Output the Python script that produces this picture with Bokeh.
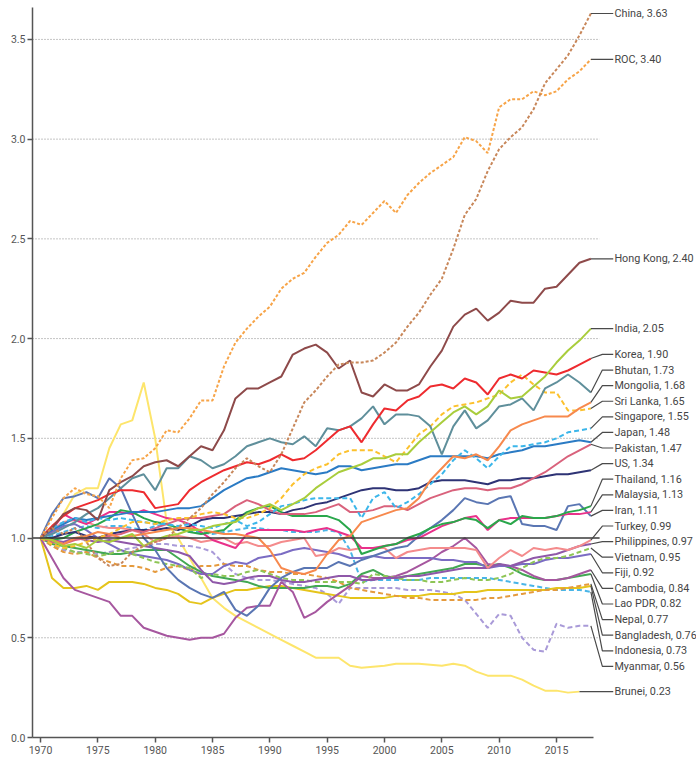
from bokeh.plotting import figure
from bokeh.models import FixedTicker, PrintfTickFormatter, Range1d
from bokeh.core.properties import value
from bokeh.embed import file_html
from bokeh.resources import INLINE

# ---------------- data ----------------
years = list(range(1970, 2019))
x_ticks = [1970, 1975, 1980, 1985, 1990, 1995, 2000, 2005, 2010, 2015]
y_ticks = [0.0, 0.5, 1.0, 1.5, 2.0, 2.5, 3.0, 3.5]

names = ["China", "ROC", "Hong Kong", "India", "Korea", "Bhutan", "Mongolia",
         "Sri Lanka", "Singapore", "Japan", "Pakistan", "US", "Thailand",
         "Malaysia", "Iran", "Turkey", "Philippines", "Vietnam", "Fiji",
         "Cambodia", "Lao PDR", "Nepal", "Bangladesh", "Indonesia", "Myanmar",
         "Brunei"]

china = [1.00, 1.05, 1.02, 1.05, 0.98, 0.90, 0.86, 0.87, 0.93, 0.96,
         0.98, 1.00, 1.05, 1.10, 1.15, 1.22, 1.28, 1.35, 1.40, 1.36,
         1.33, 1.42, 1.55, 1.68, 1.74, 1.81, 1.87, 1.88, 1.88, 1.89,
         1.93, 1.98, 2.06, 2.13, 2.22, 2.30, 2.45, 2.62, 2.70, 2.84,
         2.95, 3.01, 3.06, 3.15, 3.28, 3.35, 3.42, 3.52, 3.63]
roc = [1.00, 1.10, 1.20, 1.25, 1.22, 1.21, 1.15, 1.30, 1.39, 1.40,
       1.45, 1.54, 1.53, 1.60, 1.69, 1.69, 1.86, 1.98, 2.05, 2.11,
       2.16, 2.25, 2.30, 2.33, 2.41, 2.48, 2.52, 2.59, 2.57, 2.63,
       2.69, 2.63, 2.72, 2.78, 2.83, 2.87, 2.91, 3.01, 2.99, 2.93,
       3.16, 3.20, 3.20, 3.24, 3.22, 3.24, 3.30, 3.34, 3.40]
hong_kong = [1.00, 1.05, 1.12, 1.15, 1.14, 1.09, 1.24, 1.28, 1.31, 1.36,
             1.38, 1.39, 1.36, 1.41, 1.46, 1.44, 1.54, 1.70, 1.75, 1.75,
             1.78, 1.81, 1.92, 1.95, 1.97, 1.93, 1.85, 1.89, 1.73, 1.71,
             1.77, 1.74, 1.74, 1.77, 1.86, 1.94, 2.06, 2.12, 2.15, 2.09,
             2.13, 2.19, 2.18, 2.18, 2.25, 2.26, 2.32, 2.38, 2.40]
india = [1.00, 0.99, 0.96, 0.97, 0.95, 0.99, 0.98, 1.00, 1.02, 0.96,
         0.99, 1.01, 1.02, 1.04, 1.04, 1.06, 1.07, 1.08, 1.12, 1.15,
         1.17, 1.14, 1.17, 1.20, 1.25, 1.29, 1.33, 1.35, 1.37, 1.40,
         1.40, 1.42, 1.42, 1.48, 1.53, 1.58, 1.63, 1.66, 1.62, 1.66,
         1.74, 1.70, 1.71, 1.76, 1.81, 1.88, 1.94, 1.99, 2.05]
korea = [1.00, 1.06, 1.11, 1.15, 1.17, 1.19, 1.22, 1.24, 1.24, 1.23,
         1.15, 1.16, 1.17, 1.24, 1.28, 1.31, 1.34, 1.36, 1.38, 1.37,
         1.39, 1.42, 1.39, 1.40, 1.44, 1.49, 1.54, 1.56, 1.48, 1.57,
         1.65, 1.64, 1.69, 1.71, 1.76, 1.77, 1.75, 1.80, 1.78, 1.72,
         1.80, 1.82, 1.80, 1.84, 1.83, 1.82, 1.84, 1.87, 1.90]
bhutan = [1.00, 1.02, 1.05, 1.08, 1.12, 1.15, 1.20, 1.25, 1.30, 1.32,
          1.24, 1.35, 1.35, 1.41, 1.39, 1.35, 1.37, 1.41, 1.46, 1.48,
          1.50, 1.48, 1.47, 1.51, 1.46, 1.55, 1.54, 1.56, 1.60, 1.66,
          1.57, 1.62, 1.62, 1.61, 1.56, 1.42, 1.56, 1.64, 1.55, 1.59,
          1.66, 1.67, 1.70, 1.64, 1.75, 1.78, 1.82, 1.78, 1.73]
mongolia = [1.00, 0.99, 0.97, 1.00, 1.01, 1.03, 1.02, 1.00, 1.01, 1.02,
            1.03, 1.04, 1.05, 1.05, 1.04, 1.03, 1.02, 1.02, 1.01, 1.00,
            0.94, 0.85, 0.83, 0.82, 0.84, 0.92, 0.99, 1.01, 1.08, 1.10,
            1.12, 1.14, 1.15, 1.20, 1.29, 1.35, 1.41, 1.40, 1.42, 1.39,
            1.46, 1.54, 1.57, 1.59, 1.61, 1.61, 1.61, 1.65, 1.68]
sri_lanka = [1.00, 0.97, 0.95, 0.96, 0.98, 1.00, 1.02, 1.05, 1.08, 1.08,
             1.07, 1.09, 1.10, 1.10, 1.12, 1.13, 1.12, 1.10, 1.10, 1.12,
             1.15, 1.20, 1.27, 1.32, 1.35, 1.37, 1.42, 1.44, 1.44, 1.44,
             1.41, 1.38, 1.45, 1.52, 1.56, 1.62, 1.66, 1.67, 1.68, 1.70,
             1.72, 1.78, 1.82, 1.77, 1.73, 1.73, 1.64, 1.64, 1.65]
singapore = [1.00, 1.05, 1.08, 1.10, 1.08, 1.10, 1.09, 1.10, 1.09, 1.08,
             1.07, 1.07, 1.06, 1.07, 1.06, 1.05, 1.07, 1.09, 1.06, 1.08,
             1.12, 1.16, 1.17, 1.19, 1.20, 1.20, 1.20, 1.20, 1.10, 1.20,
             1.23, 1.15, 1.18, 1.22, 1.27, 1.32, 1.39, 1.44, 1.40, 1.35,
             1.41, 1.46, 1.46, 1.47, 1.48, 1.50, 1.53, 1.54, 1.55]
japan = [1.00, 1.04, 1.07, 1.10, 1.09, 1.10, 1.11, 1.12, 1.13, 1.13,
         1.13, 1.14, 1.15, 1.15, 1.16, 1.20, 1.24, 1.27, 1.30, 1.31,
         1.33, 1.35, 1.34, 1.33, 1.32, 1.33, 1.36, 1.36, 1.34, 1.35,
         1.36, 1.37, 1.37, 1.39, 1.41, 1.41, 1.41, 1.41, 1.41, 1.40,
         1.42, 1.43, 1.44, 1.46, 1.46, 1.47, 1.48, 1.49, 1.48]
pakistan = [1.00, 0.98, 0.97, 0.99, 1.00, 1.00, 1.01, 1.02, 1.04, 1.03,
            1.05, 1.07, 1.09, 1.10, 1.10, 1.11, 1.12, 1.16, 1.19, 1.17,
            1.14, 1.12, 1.12, 1.12, 1.13, 1.15, 1.17, 1.13, 1.13, 1.14,
            1.16, 1.16, 1.14, 1.17, 1.20, 1.22, 1.24, 1.25, 1.25, 1.24,
            1.25, 1.25, 1.27, 1.30, 1.33, 1.37, 1.41, 1.44, 1.47]
us = [1.00, 1.00, 1.02, 1.03, 1.01, 1.00, 1.02, 1.03, 1.04, 1.04,
      1.04, 1.05, 1.04, 1.06, 1.09, 1.10, 1.10, 1.11, 1.12, 1.13,
      1.13, 1.12, 1.14, 1.15, 1.17, 1.18, 1.20, 1.22, 1.24, 1.25,
      1.25, 1.24, 1.24, 1.25, 1.28, 1.29, 1.29, 1.29, 1.28, 1.27,
      1.29, 1.29, 1.30, 1.30, 1.31, 1.32, 1.32, 1.33, 1.34]
thailand = [1.00, 0.99, 1.00, 1.03, 1.05, 1.07, 1.10, 1.14, 1.13, 1.10,
            1.08, 1.07, 1.05, 1.03, 1.02, 1.03, 1.04, 1.09, 1.13, 1.15,
            1.16, 1.13, 1.11, 1.11, 1.11, 1.11, 1.09, 1.04, 0.92, 0.94,
            0.96, 0.97, 1.00, 1.02, 1.05, 1.07, 1.08, 1.10, 1.09, 1.05,
            1.09, 1.07, 1.11, 1.10, 1.10, 1.11, 1.13, 1.14, 1.16]
malaysia = [1.00, 1.04, 1.12, 1.09, 1.07, 1.10, 1.13, 1.13, 1.12, 1.14,
            1.12, 1.10, 1.09, 1.07, 1.03, 0.99, 0.97, 0.95, 1.02, 1.04,
            1.04, 1.04, 1.04, 1.03, 1.04, 1.05, 1.03, 1.01, 0.95, 0.95,
            0.96, 0.97, 0.99, 1.00, 1.03, 1.06, 1.08, 1.10, 1.11, 1.04,
            1.09, 1.10, 1.10, 1.10, 1.10, 1.11, 1.12, 1.12, 1.13]
iran = [1.00, 1.12, 1.20, 1.21, 1.23, 1.20, 1.30, 1.25, 1.12, 1.00,
        0.94, 0.85, 0.79, 0.75, 0.72, 0.70, 0.73, 0.64, 0.61, 0.66,
        0.75, 0.80, 0.83, 0.85, 0.85, 0.85, 0.88, 0.86, 0.89, 0.91,
        0.93, 0.95, 0.96, 1.01, 1.05, 1.09, 1.14, 1.20, 1.18, 1.17,
        1.20, 1.21, 1.07, 1.06, 1.06, 1.04, 1.16, 1.17, 1.11]
turkey = [1.00, 1.04, 1.08, 1.09, 1.08, 1.06, 1.05, 1.05, 1.04, 1.02,
          0.98, 1.00, 1.01, 1.00, 0.98, 0.99, 1.00, 0.97, 0.98, 0.96,
          0.96, 0.98, 0.99, 1.00, 0.91, 0.92, 0.95, 0.94, 0.95, 0.95,
          0.95, 0.90, 0.93, 0.94, 0.95, 0.95, 0.95, 0.95, 0.94, 0.85,
          0.90, 0.94, 0.91, 0.95, 0.94, 0.95, 0.94, 0.96, 0.99]
philippines = [1.00, 0.99, 0.98, 1.00, 0.99, 0.98, 0.99, 0.98, 0.97, 0.96,
               0.95, 0.94, 0.93, 0.91, 0.84, 0.78, 0.77, 0.78, 0.80, 0.81,
               0.81, 0.79, 0.78, 0.78, 0.79, 0.80, 0.81, 0.81, 0.79, 0.79,
               0.80, 0.80, 0.81, 0.81, 0.82, 0.83, 0.84, 0.85, 0.85, 0.85,
               0.87, 0.86, 0.88, 0.90, 0.91, 0.92, 0.94, 0.96, 0.97]
vietnam = [1.00, 0.97, 0.95, 0.93, 0.92, 0.91, 0.92, 0.94, 0.92, 0.90,
           0.88, 0.87, 0.86, 0.85, 0.80, 0.82, 0.81, 0.81, 0.83, 0.84,
           0.82, 0.80, 0.79, 0.79, 0.78, 0.78, 0.78, 0.78, 0.77, 0.82,
           0.81, 0.80, 0.79, 0.79, 0.78, 0.78, 0.79, 0.80, 0.79, 0.79,
           0.80, 0.82, 0.85, 0.88, 0.90, 0.90, 0.91, 0.93, 0.95]
fiji = [1.00, 1.03, 1.06, 1.07, 1.04, 1.00, 0.97, 0.94, 0.92, 0.91,
        0.90, 0.89, 0.87, 0.84, 0.82, 0.82, 0.86, 0.88, 0.87, 0.90,
        0.91, 0.92, 0.94, 0.95, 0.94, 0.93, 0.92, 0.90, 0.90, 0.91,
        0.90, 0.90, 0.90, 0.90, 0.90, 0.89, 0.89, 0.88, 0.88, 0.85,
        0.86, 0.86, 0.87, 0.87, 0.89, 0.90, 0.90, 0.91, 0.92]
cambodia = [1.00, 0.90, 0.80, 0.74, 0.72, 0.70, 0.68, 0.61, 0.61, 0.55,
            0.53, 0.51, 0.50, 0.49, 0.50, 0.50, 0.52, 0.60, 0.65, 0.66,
            0.66, 0.78, 0.73, 0.60, 0.63, 0.68, 0.72, 0.76, 0.81, 0.80,
            0.80, 0.81, 0.83, 0.86, 0.89, 0.93, 0.96, 1.00, 0.95, 0.87,
            0.86, 0.86, 0.84, 0.81, 0.79, 0.79, 0.80, 0.82, 0.84]
lao_pdr = [1.00, 0.97, 0.96, 0.95, 0.94, 0.93, 0.92, 0.92, 0.93, 0.94,
           0.94, 0.94, 0.90, 0.86, 0.83, 0.81, 0.80, 0.79, 0.78, 0.76,
           0.75, 0.75, 0.75, 0.75, 0.76, 0.76, 0.75, 0.77, 0.82, 0.84,
           0.81, 0.80, 0.81, 0.82, 0.83, 0.84, 0.85, 0.87, 0.87, 0.86,
           0.87, 0.85, 0.82, 0.80, 0.79, 0.79, 0.80, 0.81, 0.82]
nepal = [1.00, 0.96, 0.93, 0.92, 0.93, 0.90, 0.88, 0.86, 0.86, 0.85,
         0.83, 0.85, 0.86, 0.84, 0.86, 0.86, 0.87, 0.86, 0.86, 0.84,
         0.83, 0.83, 0.82, 0.82, 0.81, 0.80, 0.78, 0.75, 0.74, 0.73,
         0.72, 0.71, 0.70, 0.70, 0.69, 0.69, 0.69, 0.69, 0.69, 0.70,
         0.70, 0.71, 0.72, 0.73, 0.74, 0.74, 0.75, 0.76, 0.77]
bangladesh = [1.00, 0.80, 0.75, 0.75, 0.76, 0.74, 0.78, 0.78, 0.78, 0.77,
              0.75, 0.74, 0.72, 0.68, 0.67, 0.70, 0.72, 0.74, 0.74, 0.75,
              0.76, 0.76, 0.75, 0.74, 0.73, 0.72, 0.71, 0.70, 0.70, 0.70,
              0.70, 0.71, 0.71, 0.71, 0.72, 0.72, 0.72, 0.73, 0.73, 0.74,
              0.74, 0.74, 0.74, 0.74, 0.74, 0.75, 0.75, 0.75, 0.76]
indonesia = [1.00, 1.01, 1.03, 1.05, 1.06, 1.05, 1.06, 1.06, 1.05, 1.04,
             1.06, 1.07, 1.05, 1.03, 1.03, 1.02, 1.03, 1.04, 1.05, 1.05,
             1.04, 1.04, 1.03, 1.03, 1.03, 1.04, 1.03, 0.94, 0.78, 0.79,
             0.79, 0.79, 0.79, 0.79, 0.80, 0.80, 0.80, 0.80, 0.80, 0.80,
             0.79, 0.78, 0.77, 0.76, 0.75, 0.74, 0.74, 0.74, 0.73]
myanmar = [1.00, 0.96, 0.94, 0.93, 0.93, 0.92, 0.93, 0.94, 0.95, 0.96,
           0.97, 0.97, 0.96, 0.96, 0.95, 0.93, 0.87, 0.82, 0.80, 0.79,
           0.79, 0.78, 0.77, 0.76, 0.75, 0.72, 0.67, 0.75, 0.75, 0.75,
           0.75, 0.75, 0.74, 0.74, 0.74, 0.73, 0.72, 0.69, 0.62, 0.55,
           0.62, 0.61, 0.50, 0.44, 0.43, 0.57, 0.55, 0.56, 0.56]
brunei = [1.00, 1.05, 1.12, 1.22, 1.25, 1.25, 1.45, 1.57, 1.59, 1.78,
          1.50, 1.08, 1.00, 0.90, 0.80, 0.70, 0.65, 0.61, 0.58, 0.55,
          0.52, 0.49, 0.46, 0.43, 0.40, 0.40, 0.40, 0.36, 0.35, 0.355,
          0.36, 0.37, 0.37, 0.37, 0.365, 0.36, 0.37, 0.36, 0.33, 0.31,
          0.31, 0.31, 0.29, 0.26, 0.235, 0.235, 0.225, 0.23]

series_values = [china, roc, hong_kong, india, korea, bhutan, mongolia,
                 sri_lanka, singapore, japan, pakistan, us, thailand,
                 malaysia, iran, turkey, philippines, vietnam, fiji,
                 cambodia, lao_pdr, nepal, bangladesh, indonesia, myanmar,
                 brunei]

# ---------------- styles ----------------
colors = {
    "China": "#c8875a", "ROC": "#f7a448", "Hong Kong": "#8e4a4a",
    "India": "#a9cd3c", "Korea": "#ee2b2f", "Bhutan": "#5f8f9b",
    "Mongolia": "#f7894d", "Sri Lanka": "#fcc12d", "Singapore": "#3bb6ea",
    "Japan": "#2b7bc4", "Pakistan": "#d9627c", "US": "#2e3375",
    "Thailand": "#2aa74b", "Malaysia": "#e9318a", "Iran": "#5a76b3",
    "Turkey": "#f48b8c", "Philippines": "#8f58a9", "Vietnam": "#8ec556",
    "Fiji": "#7b6cc3", "Cambodia": "#a6579f", "Lao PDR": "#42a853",
    "Nepal": "#e59a3d", "Bangladesh": "#e5c41b", "Indonesia": "#49b5e7",
    "Myanmar": "#a99ad8", "Brunei": "#fde56c",
}
dashes = {"China": "3 2", "ROC": "3 2", "Sri Lanka": "5 3",
          "Singapore": "5 3", "Vietnam": "5 3", "Nepal": "5 3",
          "Indonesia": "5 3", "Myanmar": "5 3"}

FONT = "Roboto"
AXIS_COLOR = "#555555"
TEXT_COLOR = "#454545"

X0, X1 = 1969.30, 2027.21       # frame extent (labels live to the right)
Y1 = 3.660
AXIS_END = 2018.23
GRID_END = 2018.76
BEND_DX = 1.0
LEAD_DX = 1.95
TEXT_DX = 2.05
LABEL_GAP = 0.0782

p = figure(width=696, height=758, x_range=Range1d(X0, X1),
           y_range=Range1d(0, Y1), output_backend="svg",
           toolbar_location=None, min_border_left=32, min_border_right=0,
           min_border_top=7, min_border_bottom=21)
p.outline_line_color = None
p.background_fill_color = "white"
p.xgrid.visible = False
p.ygrid.visible = False

for ax in (p.xaxis[0], p.yaxis[0]):
    ax.axis_line_color = AXIS_COLOR
    ax.axis_line_width = 1.5
    ax.major_tick_line_color = AXIS_COLOR
    ax.major_tick_line_width = 1.5
    ax.major_tick_out = 5
    ax.major_tick_in = 0
    ax.minor_tick_line_color = None
    ax.major_label_text_font = FONT
    ax.major_label_text_font_size = "10.5px"
    ax.major_label_text_color = AXIS_COLOR
p.xaxis.ticker = FixedTicker(ticks=x_ticks)
p.xaxis.bounds = (X0, AXIS_END)
p.xaxis.major_label_standoff = 3
p.yaxis.ticker = FixedTicker(ticks=y_ticks)
p.yaxis.formatter = PrintfTickFormatter(format="%.1f")
p.yaxis.major_label_standoff = 2

# dotted grid lines
gys = [t for t in y_ticks if t not in (0.0, 1.0)]
p.segment(x0=[X0] * len(gys), y0=gys, x1=[GRID_END] * len(gys), y1=gys,
          line_color="#8a8a8a", line_width=1, line_dash="1 2")

# series lines (draw bottom-labelled first)
for name, vals in reversed(list(zip(names, series_values))):
    xs = years[:len(vals)]
    p.line(xs, vals, line_color=colors[name], line_width=2,
           line_dash=dashes.get(name, "solid"))

# reference line at 1.0
p.segment(x0=[X0], y0=[1.0], x1=[GRID_END], y1=[1.0],
          line_color="#3a3a3a", line_width=1.5)

# ---------------- label layout ----------------
def cluster_center(vals):
    s = sorted(vals)
    n = len(s)
    med = s[n // 2] if n % 2 else (s[n // 2 - 1] + s[n // 2]) / 2
    return (sum(s) / n + med) / 2

end_vals = [v[-1] for v in series_values]
end_years = [years[len(v) - 1] for v in series_values]
order = sorted(range(len(names)), key=lambda i: -end_vals[i])
clusters = []
for i in order:
    clusters.append([[i], end_vals[i]])
    while len(clusters) > 1:
        a, b = clusters[-2], clusters[-1]
        a_bottom = a[1] - (len(a[0]) - 1) * LABEL_GAP / 2
        b_top = b[1] + (len(b[0]) - 1) * LABEL_GAP / 2
        if a_bottom - b_top < LABEL_GAP:
            merged = a[0] + b[0]
            center = cluster_center([end_vals[k] for k in merged])
            clusters[-2:] = [[merged, center]]
        else:
            break
label_y = [0.0] * len(names)
for members, center in clusters:
    n = len(members)
    for j, k in enumerate(members):
        label_y[k] = center + ((n - 1) / 2 - j) * LABEL_GAP

last_year = years[-1]
lead_xs, lead_ys = [], []
for k in range(len(names)):
    lead_xs.append([end_years[k], last_year + BEND_DX, last_year + LEAD_DX])
    lead_ys.append([end_vals[k], label_y[k], label_y[k]])
p.multi_line(lead_xs, lead_ys, line_color="#4a4a4a", line_width=1.2)

labels = [f"{n}, {v:.2f}" for n, v in zip(names, end_vals)]
p.text(x=[last_year + TEXT_DX] * len(names), y=label_y, text=labels,
       text_font=value(FONT), text_font_size=value("10.8px"),
       text_color=TEXT_COLOR, text_baseline="middle", text_align="left")

open("out.html", "w").write(file_html(p, INLINE))
